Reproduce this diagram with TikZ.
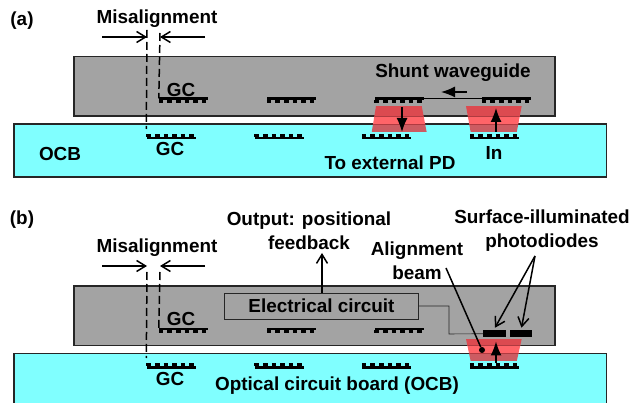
\documentclass[tikz,border=0pt]{standalone}
\usepackage{fontspec}
\setmainfont{Liberation Sans}
\usepackage{tikz}
\usetikzlibrary{positioning,arrows,arrows.meta,calc}
\definecolor{chipgray}{HTML}{A3A3A3}
\definecolor{boardcyan}{HTML}{80FFFF}
\definecolor{edgedark}{HTML}{262626}
\definecolor{beamtop}{HTML}{DC4A50}
\definecolor{beammid}{HTML}{FF6468}
\definecolor{beamlow}{HTML}{CC5C62}
\definecolor{beamline}{HTML}{B03A40}
\tikzset{
    x=1pt,
    y=-1pt,
    chip/.style = {
        draw=edgedark,
        fill=chipgray,
        shape=rectangle,
        minimum width=481,
        minimum height=59.5,
        inner sep=0,
        line width=1.5pt
    },
    board/.style = {
        draw=edgedark,
        fill=boardcyan,
        shape=rectangle,
        minimum width=592.5,
        minimum height=53,
        inner sep=0,
        line width=1.5pt
    },
    circuit/.style = {
        draw=edgedark,
        shape=rectangle,
        minimum width=194,
        minimum height=26,
        inner sep=0,
        line width=0.7pt,
        font=\fontsize{18.9}{18.9}\bfseries
    },
    diode/.style = {
        fill=black,
        shape=rectangle,
        minimum width=22.5,
        minimum height=7.5,
        inner sep=0
    },
    bar/.style = {
        fill=black,
        shape=rectangle,
        minimum width=49,
        minimum height=2.2,
        inner sep=0
    },
    teeth/.style = {
        line width=3pt,
        dash pattern=on 4.6pt off 4pt
    },
    label/.style = {
        inner sep=0,
        align=center,
        font=\fontsize{18.9}{24}\bfseries
    },
    cut/.style = {
        draw=black,
        line width=1.5pt,
        dash pattern=on 8pt off 4pt
    },
    openarrow/.style = {
        draw=black,
        line width=1.5pt,
        -{Straight Barb[length=9pt,width=11pt]}
    },
    beamarrow/.style = {
        draw=black,
        line width=1.5pt,
        -{Latex[length=14pt,width=11pt]}
    },
    >=latex',
}
% grating with its teeth below or above the bar
\newcommand{\gratingdown}[2]{
    \node[bar] (#1) at (#2) {};
    \path[draw,teeth] ($(#1.south west)+(0,1.4)$) -- ($(#1.south east)+(0,1.4)$);
}
\newcommand{\gratingup}[2]{
    \node[bar] (#1) at (#2) {};
    \path[draw,teeth] ($(#1.north west)+(0,-1.4)$) -- ($(#1.north east)+(0,-1.4)$);
}
% beam block: top left x, top right x, bottom right x, bottom left x, top y, chip edge y, board edge y, bottom y
\newcommand{\beamblock}[8]{
    \begin{scope}
        \clip (#1,#5) -- (#2,#5) -- (#3,#8) -- (#4,#8) -- cycle;
        \path[fill=beamtop] (#4-10,#5) rectangle (#2+10,#6);
        \path[fill=beammid] (#4-10,#6) rectangle (#2+10,#7);
        \path[fill=beamlow] (#4-10,#7) rectangle (#2+10,#8);
        \path[draw=beamline,line width=0.7pt] (#4-10,#6) -- (#2+10,#6);
        \path[draw=beamline,line width=0.7pt] (#4-10,#7) -- (#2+10,#7);
    \end{scope}
}

\begin{document}
\begin{tikzpicture}
    \useasboundingbox (0,0) rectangle (630,403);

    % panel (a)
    \node[label] (taga) at (22,21) {(a)};
    \node[label] (misa) at (157,19) {Misalignment};
    \node[chip] (chipa) at (314.5,86.3) {};
    \node[board] (boarda) at (310.3,150.5) {};

    \coordinate (cutla) at (147,30);
    \coordinate (cutra) at (160,33);
    \coordinate (lefta) at (102,37);
    \coordinate (righta) at (205,37);

    \gratingdown{gcua}{183.5,98.5}
    \gratingdown{gcub}{291.5,98.5}
    \gratingdown{gcuc}{399,98.5}
    \gratingdown{gcud}{506.5,98.5}
    \gratingup{gcla}{171,138}
    \gratingup{gclb}{279,138}
    \gratingup{gclc}{386.5,138}
    \gratingup{gcld}{494.5,138}

    \path[draw,line width=1.2pt] (gcuc) -- (gcud);
    \path[cut] (cutla) -- (gcla.west |- 0,129);
    \path[cut] (cutra) -- (gcua.west);
    \path[openarrow] (lefta) -- (cutla |- lefta);
    \path[openarrow] (righta) -- (cutra |- righta);

    \beamblock{376}{421.7}{426.7}{371.7}{106}{116}{124}{132.3}
    \beamblock{466}{521.7}{516.7}{470.7}{106}{116}{124}{132.3}

    \coordinate (shunt) at (467,92);
    \path[beamarrow] (shunt) -- (441,92);
    \path[beamarrow] (402,107) -- (402,132);
    \path[beamarrow] (496,132) -- (496,108);

    \node[label] (gcta) at (181,90) {GC};
    \node[label] (gcba) at (170,149) {GC};
    \node[label] (ocba) at (60,154) {OCB};
    \node[label] (exta) at (390,163) {To external PD};
    \node[label] (ina) at (494,153) {In};
    \node[label] (wgda) at (453,73) {Shunt waveguide};

    % panel (b)
    \node[label] (tagb) at (22,220) {(b)};
    \node[label] (misb) at (157,248) {Misalignment};
    \node[chip] (chipb) at (314.5,315.6) {};
    \node[board,minimum height=60] (boardb) at (310.3,383.7) {};
    \node[circuit] (elec) at (321.5,306) {Electrical circuit};

    \coordinate (cutlb) at (147,272);
    \coordinate (cutrb) at (160,272);
    \coordinate (leftb) at (102,266);
    \coordinate (rightb) at (205,266);

    \gratingdown{gcue}{183.5,329}
    \gratingdown{gcuf}{291.5,329}
    \gratingdown{gcug}{399,329}
    \gratingup{gcle}{171,367.5}
    \gratingup{gclf}{279,367.5}
    \gratingup{gclg}{386.5,367.5}
    \gratingup{gclh}{494.5,367.5}

    \path[cut] (cutlb) -- (gcle.west |- 0,358);
    \path[cut] (cutrb) -- (gcue.west);
    \path[openarrow] (leftb) -- (cutlb |- leftb);
    \path[openarrow] (rightb) -- (cutrb |- rightb);

    \beamblock{466}{521.7}{516.7}{470.7}{339}{345.3}{353.7}{361.3}

    \node[diode] (pdl) at (494.5,333.7) {};
    \node[diode] (pdr) at (521,333.7) {};
    \path[draw=edgedark,line width=0.6pt] (elec.east) -| (449,334) -- (pdl.west);

    \node[label] (outp) at (309,231) {Output: positional\\feedback};
    \node[label] (algn) at (417,260.5) {Alignment\\beam};
    \node[label] (surf) at (542,231) {Surface-illuminated\\photodiodes};
    \node[label] (gctb) at (181,319) {GC};
    \node[label] (gcbb) at (170,379) {GC};
    \node[label] (ocbb) at (337,385.5) {Optical circuit board (OCB)};

    \coordinate (fork) at (535,256);
    \node[fill=black,shape=circle,inner sep=0,minimum size=6] (dot) at (482,350) {};
    \path[openarrow] (elec.north -| 322,0) -- (322,253);
    \path[openarrow] (fork) -- ($(pdl.north)+(0.5,-2)$);
    \path[openarrow] (fork) -- ($(pdr.north)+(0.5,-2)$);
    \path[draw,line width=1.5pt] (446,268) -- (dot);
    \path[beamarrow] (496,363) -- (496,341.5);
\end{tikzpicture}
\end{document}
